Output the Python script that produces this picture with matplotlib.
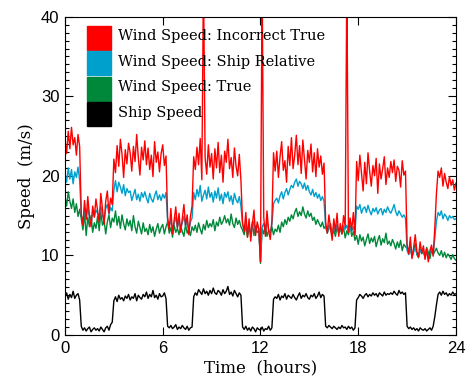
import matplotlib
matplotlib.use("Agg")
import matplotlib.pyplot as plt
from matplotlib.patches import Rectangle
import numpy as np

# samples every 0.1 h, 0 .. 24 h
hours = np.round(np.arange(241) * 0.1, 1)

wind_incorrect = [
    24.5, 22.8, 25.6, 23.4, 26.1, 23.9, 24.8, 22.6, 25.2, 23.7,
    15.2, 13.8, 16.9, 14.5, 17.4, 15.0, 13.6, 16.2, 14.8, 17.1,
    15.6, 14.2, 17.8, 15.9, 13.9, 16.8, 18.1, 15.3, 17.2, 16.4,
    22.1, 20.4, 23.8, 21.2, 24.6, 22.7, 19.8, 23.3, 21.5, 24.1,
    22.9, 20.6, 23.7, 21.8, 25.2, 22.3, 20.1, 23.6, 22.0, 24.4,
    21.4, 23.5, 20.8, 22.6, 19.9, 24.3, 21.7, 23.0, 20.5, 22.8,
    23.9, 21.3, 22.5, 14.8, 13.2, 15.9, 12.7, 14.4, 16.1, 13.5,
    15.3, 12.9, 14.7, 16.4, 13.8, 15.1, 12.6, 14.9, 16.2, 22.4,
    20.8, 23.6, 21.4, 24.7, 19.5, 45.0, 22.3, 20.2, 23.9, 21.1,
    22.8, 19.6, 23.4, 21.0, 24.2, 20.4, 22.6, 19.2, 23.1, 21.7,
    24.6, 20.9, 22.3, 19.8, 23.5, 21.2, 20.0, 22.7, 19.4, 14.1,
    13.0, 15.4, 12.3, 14.6, 11.8, 13.9, 15.7, 12.5, 14.2, 13.3,
    9.2, 45.0, 14.8, 12.4, 15.6, 13.1, 12.0, 14.3, 22.9, 20.6,
    23.1, 19.8, 22.4, 24.3, 20.7, 21.9, 19.2, 23.7, 21.3, 24.8,
    20.9, 22.6, 25.1, 21.4, 23.8, 20.3, 24.5, 22.0, 19.6, 23.2,
    21.7, 24.0, 20.5, 22.9, 19.9, 23.4, 21.1, 22.5, 20.2, 21.6,
    14.2, 12.8, 15.1, 13.4, 11.9, 14.6, 13.0, 15.3, 12.4, 14.0,
    12.7, 15.0, 13.6, 45.0, 12.9, 14.7, 13.2, 15.4, 12.5, 21.8,
    19.4, 22.6, 20.3, 18.1, 21.7, 19.0, 22.9, 20.6, 18.7, 21.3,
    20.0, 22.2, 17.8, 21.5, 19.6, 20.9, 22.4, 18.9, 21.0, 19.8,
    21.8, 20.4, 22.0, 19.3, 21.2, 20.7, 18.6, 21.9, 20.1, 20.6,
    11.4, 10.2, 12.3, 9.6, 11.0, 12.6, 10.5, 9.8, 11.7, 10.3,
    11.2, 9.5, 10.8, 9.2, 10.6, 11.3, 9.9, 13.5, 17.8, 20.6,
    19.8, 21.0, 18.7, 20.3, 19.2, 18.4, 19.9, 18.8, 19.5, 18.2,
    19.1,
]

wind_relative = [
    20.3, 19.2, 21.0, 19.6, 20.8, 19.0, 20.5, 19.8, 21.1, 19.4,
    15.0, 14.2, 15.8, 14.6, 16.0, 14.8, 14.0, 15.5, 14.9, 15.7,
    15.3, 14.6, 16.2, 15.0, 14.4, 15.9, 16.4, 15.2, 16.0, 15.6,
    18.2, 19.4, 18.0, 19.2, 18.6, 17.8, 18.9, 17.5, 18.4, 17.9,
    18.1, 16.9, 17.6, 18.3, 17.0, 17.7, 16.8, 17.9, 17.3, 18.0,
    17.2, 16.6, 17.8, 17.1, 16.7, 17.5, 18.1, 17.0, 17.6, 16.9,
    17.7, 17.2, 17.9, 14.2, 13.6, 14.5, 13.2, 14.0, 14.8, 13.5,
    14.3, 13.4, 14.1, 14.9, 13.7, 14.4, 13.1, 14.2, 14.7, 17.9,
    17.0, 18.3, 17.4, 18.8, 16.8, 17.6, 18.2, 17.1, 18.6, 17.3,
    17.9, 16.7, 18.1, 17.2, 18.5, 16.9, 17.7, 16.5, 17.9, 17.3,
    18.0, 16.8, 17.5, 16.4, 17.8, 17.0, 16.6, 17.4, 16.2, 13.9,
    13.2, 14.1, 12.8, 13.7, 12.6, 13.5, 14.3, 12.9, 13.8, 13.3,
    9.2, 13.6, 14.0, 12.9, 14.4, 13.2, 12.8, 13.9, 16.5, 16.9,
    17.2, 16.6, 17.5, 18.0, 17.1, 17.9, 18.4, 17.6, 18.3, 18.8,
    18.5, 19.2, 19.6, 18.7, 19.3, 19.0, 18.4, 19.1, 18.2, 18.8,
    18.0, 17.6, 18.3, 17.4, 17.9, 17.2, 17.7, 16.9, 17.4, 16.8,
    13.5, 12.9, 13.8, 13.2, 12.6, 13.6, 13.0, 13.9, 12.8, 13.4,
    13.1, 13.7, 13.3, 13.8, 12.9, 13.5, 13.0, 13.6, 12.7, 16.2,
    15.8, 16.4, 15.3, 15.9, 16.1, 15.4, 16.3, 15.6, 15.1, 15.9,
    15.5, 16.0, 15.2, 15.7, 15.9, 15.1, 15.8, 15.4, 16.1, 15.6,
    15.3, 15.8, 16.4, 15.5, 15.0, 15.6, 15.2, 14.8, 15.1, 14.7,
    10.6, 10.1, 10.9, 9.8, 10.4, 11.0, 10.2, 9.9, 10.7, 10.3,
    10.5, 9.7, 10.8, 9.6, 10.3, 10.9, 10.1, 12.2, 14.3, 15.4,
    15.0, 15.6, 14.6, 15.2, 14.9, 14.4, 15.0, 14.7, 14.9, 14.5,
    14.6,
]

wind_true = [
    17.4, 16.2, 18.0, 16.8, 15.9, 17.1, 15.4, 16.5, 14.9, 15.8,
    14.6, 13.2, 15.3, 12.5, 14.8, 13.6, 15.0, 12.9, 14.1, 13.4,
    14.9, 13.1, 15.4, 13.8, 14.4, 12.7, 14.2, 15.1, 13.5, 14.7,
    14.2, 15.6, 13.8, 14.9, 13.4, 15.1, 14.0, 13.2, 14.6, 13.7,
    14.4, 13.1, 15.0, 13.6, 12.8, 14.3, 13.5, 12.7, 14.1, 13.0,
    13.4, 12.6, 13.9, 12.9, 13.6, 12.4, 13.3, 14.0, 12.8, 13.5,
    13.9, 12.7, 13.6, 14.2, 12.8, 13.5, 12.3, 13.8, 12.9, 13.4,
    12.6, 13.7, 13.0, 12.4, 13.9, 12.8, 13.3, 12.5, 13.6, 13.1,
    13.8, 12.9, 14.1, 13.3, 12.7, 13.9, 13.2, 14.4, 13.5, 14.0,
    13.6, 14.5, 13.1, 14.2, 13.7, 14.8, 13.9, 14.3, 15.0, 14.1,
    14.6, 13.8, 15.2, 14.0, 13.5, 14.7, 13.9, 14.4, 13.6, 13.2,
    12.6, 13.9, 12.3, 13.4, 12.8, 14.2, 12.5, 13.7, 12.9, 13.1,
    9.0, 13.4, 12.7, 13.8, 12.4, 13.2, 12.9, 13.6, 12.6, 13.3,
    13.0, 13.8, 12.9, 14.2, 13.6, 14.5, 13.9, 14.8, 14.3, 15.1,
    14.6, 15.4, 15.9, 14.9, 15.5, 15.0, 16.1, 15.2, 14.7, 15.6,
    14.9, 15.3, 14.4, 14.8, 13.9, 14.5, 14.0, 13.6, 14.2, 13.4,
    13.7, 12.8, 13.4, 14.0, 12.6, 13.2, 12.4, 13.6, 12.9, 13.3,
    12.7, 13.5, 12.2, 13.1, 12.6, 13.8, 12.4, 13.0, 11.9, 12.5,
    11.4, 12.6, 11.8, 12.3, 11.2, 12.0, 12.7, 11.5, 12.2, 11.7,
    12.4, 11.1, 11.9, 12.5, 11.3, 12.1, 11.6, 12.8, 11.4, 11.8,
    11.2, 12.0, 11.5, 10.8, 11.7, 11.0, 11.9, 10.6, 11.4, 11.1,
    10.9, 10.3, 11.2, 9.8, 10.6, 11.5, 10.1, 9.7, 10.8, 10.2,
    10.6, 9.9, 11.0, 10.4, 9.6, 10.7, 10.1, 10.5, 10.9, 10.3,
    10.0, 10.6, 9.8, 10.4, 9.7, 10.2, 9.9, 9.5, 10.1, 9.6,
    9.4,
]

ship_speed = [
    4.8, 5.3, 4.5, 5.1, 4.7, 5.5, 4.6, 5.0, 5.2, 4.4,
    1.1, 0.6, 0.9, 0.5, 0.8, 1.0, 0.4, 0.7, 0.9, 0.6,
    0.8, 0.5, 1.0, 0.7, 0.4, 0.9, 1.1, 0.6, 1.3, 1.6,
    4.3, 4.8, 4.2, 5.0, 4.5, 4.7, 4.3, 4.9, 4.6, 5.1,
    4.4, 4.8, 4.6, 5.2, 4.3, 5.0, 4.7, 4.5, 5.1, 4.8,
    5.4, 4.6, 5.1, 4.8, 5.6, 4.7, 5.0, 4.5, 5.2, 4.8,
    4.9, 5.3, 4.6, 1.1, 0.9, 1.2, 0.8, 1.0, 1.3, 0.7,
    1.0, 0.8, 1.2, 0.9, 0.7, 1.1, 0.6, 0.9, 1.0, 4.8,
    5.3, 5.0, 5.7, 5.4, 5.1, 5.8, 5.2, 5.5, 5.0, 5.6,
    5.2, 5.9, 5.3, 5.1, 5.6, 5.4, 5.0, 5.7, 5.2, 5.5,
    6.1, 5.1, 5.4, 4.9, 5.6, 5.2, 4.8, 5.3, 5.0, 1.0,
    0.7, 1.1, 0.6, 0.9, 0.5, 1.0, 0.8, 0.4, 0.9, 0.7,
    0.6, 1.0, 0.5, 0.8, 0.7, 1.1, 0.6, 0.9, 4.5, 4.8,
    4.6, 5.1, 4.4, 4.9, 4.7, 5.2, 4.5, 5.0, 4.8, 4.6,
    5.1, 4.7, 4.4, 4.9, 5.3, 4.6, 5.0, 4.8, 5.2, 4.7,
    4.5, 5.0, 4.8, 5.2, 4.6, 4.9, 5.4, 4.7, 5.1, 4.9,
    1.1, 0.9, 1.2, 1.0, 0.8, 1.1, 0.9, 0.7, 1.0, 0.8,
    1.2, 0.9, 1.0, 0.7, 1.1, 0.8, 1.0, 0.6, 0.9, 4.4,
    4.7, 5.1, 4.9, 4.6, 5.0, 5.2, 4.8, 5.1, 4.9, 5.3,
    5.0, 5.2, 4.8, 5.3, 5.1, 4.9, 5.4, 5.0, 5.2, 5.1,
    5.3, 5.1, 5.5, 5.2, 5.0, 5.6, 5.2, 5.4, 5.1, 5.3,
    1.1, 0.8, 1.0, 0.7, 0.9, 0.6, 0.8, 0.5, 0.9, 0.7,
    0.6, 0.8, 0.5, 0.7, 0.9, 0.6, 1.1, 2.3, 3.8, 5.1,
    5.4, 5.0, 5.5, 5.1, 5.3, 4.9, 5.2, 5.0, 5.4, 5.1,
    5.2,
]

labels = ["Wind Speed: Incorrect True", "Wind Speed: Ship Relative",
          "Wind Speed: True", "Ship Speed"]
colors = ["#ff0000", "#00a0cc", "#00883a", "#000000"]

fig = plt.figure(figsize=(4.74, 3.92), dpi=100)
ax = fig.add_axes([0.1371, 0.1454, 0.8249, 0.812])

# draw back to front: ship speed, true, relative, incorrect true
for y, c in zip([ship_speed, wind_true, wind_relative, wind_incorrect], colors[::-1]):
    ax.plot(hours, y, color=c, linewidth=1.0)

ax.set_xlim(0, 24)
ax.set_ylim(0, 40)
ax.set_xticks([0, 6, 12, 18, 24])
ax.set_yticks([0, 10, 20, 30, 40])
ax.set_yticks(np.arange(0, 41, 1), minor=True)
ax.tick_params(which="both", direction="in", top=True, right=True,
               labelsize=12, pad=4, width=0.8)
ax.tick_params(which="major", length=6)
ax.tick_params(which="minor", length=3)
for lab in ax.get_xticklabels() + ax.get_yticklabels():
    lab.set_family("Liberation Sans")
for sp in ax.spines.values():
    sp.set_linewidth(0.8)

ax.set_xlabel("Time  (hours)", family="DejaVu Serif", fontsize=12, labelpad=3)
ax.set_ylabel("Speed  (m/s)", family="DejaVu Serif", fontsize=12, labelpad=4)

# legend: colour squares stacked at upper left
for i, (lab, c) in enumerate(zip(labels, colors)):
    top = 0.9717 - i * 0.0801
    ax.add_patch(Rectangle((0.057, top - 0.0754), 0.0598, 0.0754,
                           transform=ax.transAxes, color=c, zorder=5))
    ax.text(0.1363, top - 0.0754 / 2 + 0.005, lab, transform=ax.transAxes,
            family="DejaVu Serif", fontsize=10.5, va="center", ha="left", zorder=5)

fig.savefig("out.png", dpi=100)
